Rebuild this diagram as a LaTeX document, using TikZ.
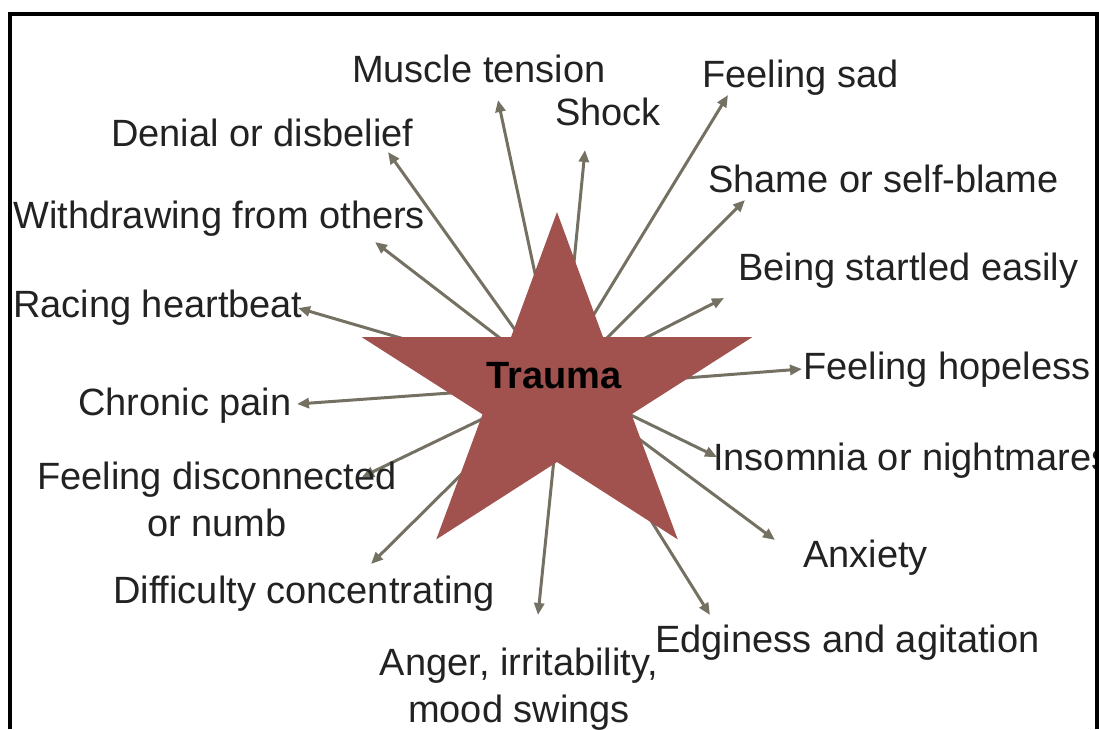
\documentclass[tikz,border=0pt]{standalone}
\usepackage{fontspec}
\setmainfont{Liberation Sans}
\usetikzlibrary{arrows.meta}

\definecolor{starred}{RGB}{161,82,78}
\definecolor{arrowgray}{RGB}{117,113,98}
\definecolor{textgray}{RGB}{34,34,34}

\begin{document}
\begin{tikzpicture}[x=1pt,y=-1pt,
    lbl/.style={anchor=base west,inner sep=0pt,text=textgray,font=\fontsize{38}{47}\selectfont},
    arr/.style={draw=arrowgray,line width=3pt,-{Triangle[length=12pt,width=10pt]}}]
    \useasboundingbox (0,0) rectangle (1099,729);

    % where each arrow leaves (under the star) and where it points
    \coordinate (muscle-s) at (546,325);   \coordinate (muscle-t) at (498,100);
    \coordinate (shock-s) at (570,303);    \coordinate (shock-t) at (585,150);
    \coordinate (sad-s) at (555,378);      \coordinate (sad-t) at (728,95);
    \coordinate (denial-s) at (538,362);   \coordinate (denial-t) at (388,152);
    \coordinate (shame-s) at (578,367);    \coordinate (shame-t) at (745,200);
    \coordinate (withdraw-s) at (535,365); \coordinate (withdraw-t) at (375,242);
    \coordinate (startled-s) at (600,361); \coordinate (startled-t) at (724,298);
    \coordinate (racing-s) at (476,360);   \coordinate (racing-t) at (298,308);
    \coordinate (hopeless-s) at (620,383); \coordinate (hopeless-t) at (802,369);
    \coordinate (chronic-s) at (520,388);  \coordinate (chronic-t) at (297,404);
    \coordinate (insomnia-s) at (600,400); \coordinate (insomnia-t) at (717,457);
    \coordinate (numb-s) at (530,396);     \coordinate (numb-t) at (362,477);
    \coordinate (anxiety-s) at (600,410);  \coordinate (anxiety-t) at (775,540);
    \coordinate (concentr-s) at (490,446); \coordinate (concentr-t) at (371,564);
    \coordinate (edgy-s) at (625,479);     \coordinate (edgy-t) at (710,615);
    \coordinate (anger-s) at (558,420);    \coordinate (anger-t) at (538,615);

    \foreach \n in {muscle,shock,sad,denial,shame,withdraw,startled,racing,
                    hopeless,chronic,insomnia,numb,anxiety,concentr,edgy,anger}
        \draw[arr] (\n-s) -- (\n-t);

    % the star, a bit wider than a regular one
    \begin{scope}[shift={(557,393)},xscale=1.135]
        \fill[starred] (-90:181) \foreach \k in {0,...,4} {
            -- ({-54+72*\k}:69) -- ({-18+72*\k}:181) } -- cycle;
    \end{scope}
    \node[anchor=base,inner sep=0pt,font=\fontsize{38}{47}\selectfont\bfseries] (trauma) at (554,388) {Trauma};

    \node[lbl] (muscle) at (352,82) {Muscle tension};
    \node[lbl] (shock) at (555,125) {Shock};
    \node[lbl] (sad) at (702,87) {Feeling sad};
    \node[lbl] (denial) at (111,146) {Denial or disbelief};
    \node[lbl] (shame) at (708,192) {Shame or self-blame};
    \node[lbl] (withdraw) at (13,228) {Withdrawing from others};
    \node[lbl] (startled) at (738,280) {Being startled easily};
    \node[lbl] (racing) at (13,317) {Racing heartbeat};
    \node[lbl] (hopeless) at (803,379) {Feeling hopeless};
    \node[lbl] (chronic) at (78,415) {Chronic pain};
    \node[lbl] (insomnia) at (713,470) {Insomnia or nightmares};
    \node[lbl,align=center,anchor=base] (numb) at (217,536) {Feeling disconnected\\or numb};
    \node[lbl] (anxiety) at (803,567) {Anxiety};
    \node[lbl] (concentr) at (113,603) {Difficulty concentrating};
    \node[lbl] (edgy) at (655,652) {Edginess and agitation};
    \node[lbl,align=center,anchor=base] (anger) at (519,722) {Anger, irritability,\\mood swings};

    % frame
    \draw[line width=4pt] (10,729) -- (10,13.5) -- (1097,13.5) -- (1097,729);
\end{tikzpicture}
\end{document}
